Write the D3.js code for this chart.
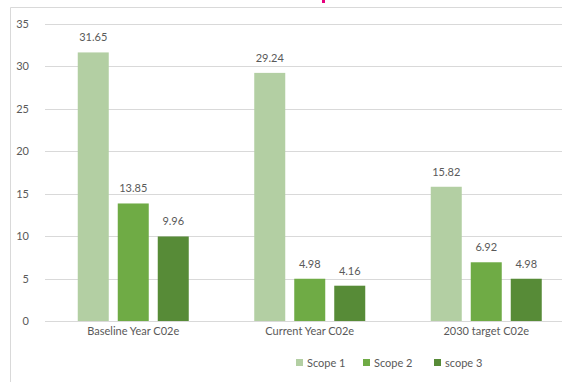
<!DOCTYPE html>
<html>
<head>
<meta charset="utf-8">
<script src="https://cdn.jsdelivr.net/npm/d3@7"></script>
<style>
  html, body { margin: 0; padding: 0; background: #fff; }
  svg { display: block; }
  text { font-family: Lato, "Open Sans", sans-serif; fill: #595959; }
</style>
</head>
<body>
<script>
const categories = ["Baseline Year C02e", "Current Year C02e", "2030 target C02e"];
const seriesNames = ["Scope 1", "Scope 2", "scope 3"];
const scope1 = [31.65, 29.24, 15.82];
const scope2 = [13.85, 4.98, 6.92];
const scope3 = [9.96, 4.16, 4.98];
const yTicks = [0, 5, 10, 15, 20, 25, 30, 35];
const colors = ["#b3cfa3", "#6fab45", "#578b37"];

const series = [scope1, scope2, scope3];
const W = 562, H = 382;

const svg = d3.select("body").append("svg").attr("width", W).attr("height", H);

// chart frame (cut off at right / bottom)
svg.append("path")
  .attr("d", `M10.5,${H + 2} V7.5 H${W + 2}`)
  .attr("fill", "none").attr("stroke", "#d9d9d9").attr("stroke-width", 1);

// small magenta remnant of title at top
svg.append("rect").attr("x", 322).attr("y", 0).attr("width", 3).attr("height", 3).attr("fill", "#e6007e");

const x0 = d3.scaleBand().domain(categories).range([45, 574.5]).paddingInner(0).paddingOuter(0);
const y = d3.scaleLinear().domain([0, 35]).range([321, 24]);

// gridlines
svg.append("g").selectAll("line").data(yTicks).join("line")
  .attr("x1", 45).attr("x2", W)
  .attr("y1", d => Math.round(y(d)) + 0.5).attr("y2", d => Math.round(y(d)) + 0.5)
  .attr("stroke", "#d9d9d9").attr("stroke-width", 1);

// y axis labels
const yAxis = d3.axisLeft(y).tickValues(yTicks).tickSize(0).tickPadding(0);
const gy = svg.append("g").attr("transform", "translate(29,0)").call(yAxis);
gy.select(".domain").remove();
gy.selectAll("text").attr("font-size", 11).attr("fill", "#595959")
  .style("font-family", "Lato, 'Open Sans', sans-serif");

// bars
const groupW = 111;
const groups = svg.append("g").selectAll("g").data(categories).join("g");
categories.forEach((cat, ci) => {
  const cx = x0(cat) + x0.bandwidth() / 2;
  const x1 = d3.scaleBand().domain(seriesNames).range([cx - groupW / 2, cx + groupW / 2])
    .paddingInner(0.225).paddingOuter(0);
  const rows = seriesNames.map((s, si) => ({ s, si, v: series[si][ci] }));
  const g = svg.append("g");
  g.selectAll("rect").data(rows).join("rect")
    .attr("x", d => x1(d.s)).attr("width", x1.bandwidth())
    .attr("y", d => y(d.v)).attr("height", d => y(0) - y(d.v))
    .attr("fill", d => colors[d.si]);
  g.selectAll("text").data(rows).join("text")
    .attr("x", d => x1(d.s) + x1.bandwidth() / 2)
    .attr("y", d => y(d.v) - 11)
    .attr("text-anchor", "middle").attr("font-size", 11)
    .text(d => d.v.toFixed(2));
});

// x axis labels
const xAxis = d3.axisBottom(x0).tickSize(0).tickPadding(0);
const gx = svg.append("g").attr("transform", "translate(0,327)").call(xAxis);
gx.select(".domain").remove();
gx.selectAll("text").attr("font-size", 11).attr("fill", "#595959")
  .style("font-family", "Lato, 'Open Sans', sans-serif");

// legend
const legendX = [296, 363, 434];
const lg = svg.append("g");
seriesNames.forEach((s, i) => {
  lg.append("rect").attr("x", legendX[i]).attr("y", 359).attr("width", 7).attr("height", 7).attr("fill", colors[i]);
  lg.append("text").attr("x", legendX[i] + 11).attr("y", 367).attr("font-size", 11).text(s);
});
</script>
</body>
</html>
